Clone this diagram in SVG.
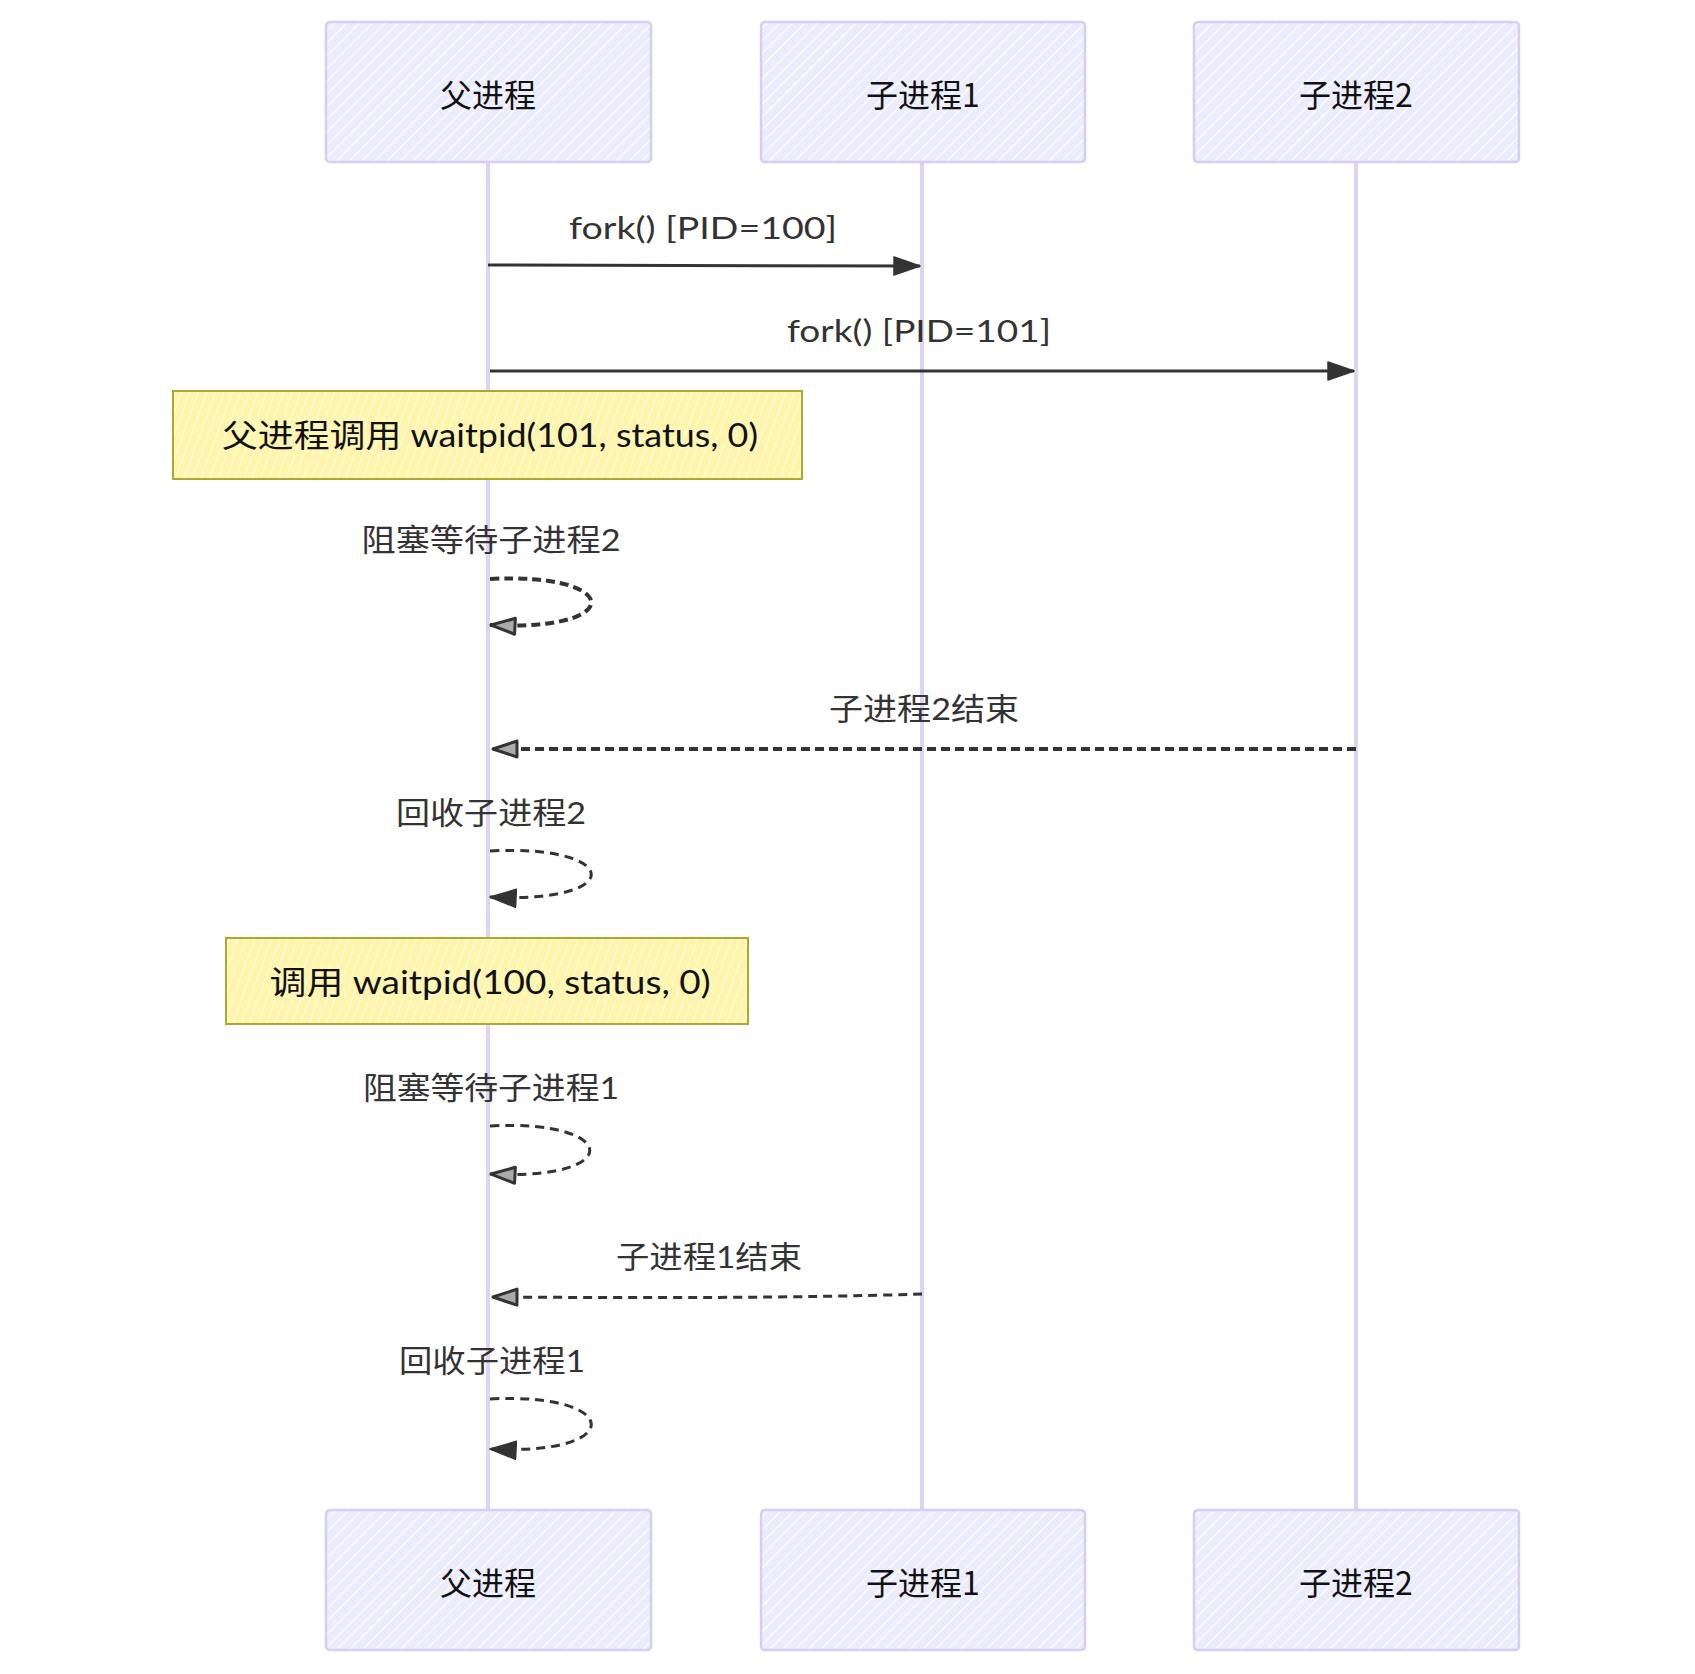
<svg xmlns="http://www.w3.org/2000/svg" width="1695" height="1674" viewBox="0 0 1695 1674">
<defs>
<pattern id="hatchActor" patternUnits="userSpaceOnUse" width="9" height="9" patternTransform="rotate(45)">
<rect width="9" height="9" fill="#ECECFF"/>
<line x1="0" y1="0" x2="0" y2="9" stroke="#ffffff" stroke-width="2.5"/>
</pattern>
<pattern id="hatchNote" patternUnits="userSpaceOnUse" width="8" height="8" patternTransform="rotate(20)">
<rect width="8" height="8" fill="#fff5ad"/>
<line x1="0" y1="0" x2="0" y2="8" stroke="#fffbe0" stroke-width="2"/>
</pattern>
<marker id="arrowFill" viewBox="0 0 28 20" refX="27" refY="10" markerWidth="28" markerHeight="20" markerUnits="userSpaceOnUse" orient="auto">
<path d="M1,1 L27,10 L1,19 Z" fill="#333" stroke="#333" stroke-width="1.5" stroke-linejoin="round"/>
</marker>
<marker id="arrowOpen" viewBox="0 0 28 20" refX="27" refY="10" markerWidth="28" markerHeight="20" markerUnits="userSpaceOnUse" orient="auto">
<path d="M2,2 L26,10 L2,18 Z" fill="#aaa" stroke="#333" stroke-width="3" stroke-linejoin="round"/>
</marker>
</defs>
<style>
.actor rect{fill:url(#hatchActor);stroke:#d6ccf4;stroke-width:2.5}
.actor text{font-family:"Noto Sans CJK SC","Lato",sans-serif;font-size:32px;fill:#111;text-anchor:middle;dominant-baseline:central}
.life{stroke:#ddd4f4;stroke-width:4}
.note rect{fill:url(#hatchNote);stroke:#aaaa33;stroke-width:2}
.note text{font-family:"Lato","Noto Sans CJK SC",sans-serif;font-size:32px;fill:#111;text-anchor:middle;dominant-baseline:central}
.lbl{font-family:"Lato","Noto Sans CJK SC",sans-serif;font-size:31px;fill:#333;text-anchor:middle;dominant-baseline:central}
.msg{fill:none;stroke:#333;stroke-width:3}
.dash{fill:none;stroke:#333;stroke-width:4;stroke-dasharray:9 5}
.dashthin{fill:none;stroke:#333;stroke-width:3;stroke-dasharray:9 6}
</style>
<rect width="1695" height="1674" fill="#ffffff"/>
<g id="lifelines">
<line class="life" x1="488" y1="162" x2="488" y2="1510" stroke-width="5"/>
<line class="life" x1="922" y1="162" x2="922" y2="1510"/>
<line class="life" x1="1356" y1="162" x2="1356" y2="1510"/>
</g>
<g id="actor-parent-top" class="actor"><rect x="326" y="22" width="325" height="140" rx="4"/><text x="488" y="93">父进程</text></g>
<g id="actor-child1-top" class="actor"><rect x="761" y="22" width="324" height="140" rx="4"/><text x="923" y="93">子进程1</text></g>
<g id="actor-child2-top" class="actor"><rect x="1194" y="22" width="325" height="140" rx="4"/><text x="1356" y="93">子进程2</text></g>
<g id="actor-parent-bottom" class="actor"><rect x="326" y="1510" width="325" height="140" rx="4"/><text x="488" y="1581">父进程</text></g>
<g id="actor-child1-bottom" class="actor"><rect x="761" y="1510" width="324" height="140" rx="4"/><text x="923" y="1581">子进程1</text></g>
<g id="actor-child2-bottom" class="actor"><rect x="1194" y="1510" width="325" height="140" rx="4"/><text x="1356" y="1581">子进程2</text></g>
<g id="note-1" class="note"><rect x="173" y="391" width="629" height="88"/><text x="490" y="434" textLength="536" lengthAdjust="spacingAndGlyphs">父进程调用 waitpid(101, status, 0)</text></g>
<g id="note-2" class="note"><rect x="226" y="938" width="522" height="86"/><text x="490" y="981" textLength="441" lengthAdjust="spacingAndGlyphs">调用 waitpid(100, status, 0)</text></g>
<g id="connectors">
<path class="msg" d="M488 265 L920 266" stroke-width="3.5" marker-end="url(#arrowFill)"/>
<path class="msg" d="M490 371 L1354 371" marker-end="url(#arrowFill)"/>
<path class="dash" d="M490 579 C622 572, 628 632, 490 625" marker-end="url(#arrowOpen)"/>
<path class="dash" d="M1356 749 L492 749" marker-end="url(#arrowOpen)"/>
<path class="dashthin" d="M490 851 C622 844, 628 904, 490 897" marker-end="url(#arrowFill)"/>
<path class="dashthin" d="M490 1126 C620 1119, 626 1181, 490 1174" marker-end="url(#arrowOpen)"/>
<path class="dashthin" d="M922 1294 C800 1298, 650 1298, 492 1297" marker-end="url(#arrowOpen)"/>
<path class="dashthin" d="M490 1399 C622 1392, 628 1456, 490 1449" marker-end="url(#arrowFill)"/>
</g>
<g id="labels">
<text class="lbl" x="703" y="227" textLength="268" lengthAdjust="spacingAndGlyphs">fork() [PID=100]</text>
<text class="lbl" x="919" y="330" textLength="264" lengthAdjust="spacingAndGlyphs">fork() [PID=101]</text>
<text class="lbl" x="491" y="539" textLength="259" lengthAdjust="spacingAndGlyphs">阻塞等待子进程2</text>
<text class="lbl" x="924" y="708" textLength="190" lengthAdjust="spacingAndGlyphs">子进程2结束</text>
<text class="lbl" x="491" y="812" textLength="190" lengthAdjust="spacingAndGlyphs">回收子进程2</text>
<text class="lbl" x="491" y="1087" textLength="256" lengthAdjust="spacingAndGlyphs">阻塞等待子进程1</text>
<text class="lbl" x="709" y="1256" textLength="186" lengthAdjust="spacingAndGlyphs">子进程1结束</text>
<text class="lbl" x="492" y="1360" textLength="186" lengthAdjust="spacingAndGlyphs">回收子进程1</text>
</g>
</svg>
